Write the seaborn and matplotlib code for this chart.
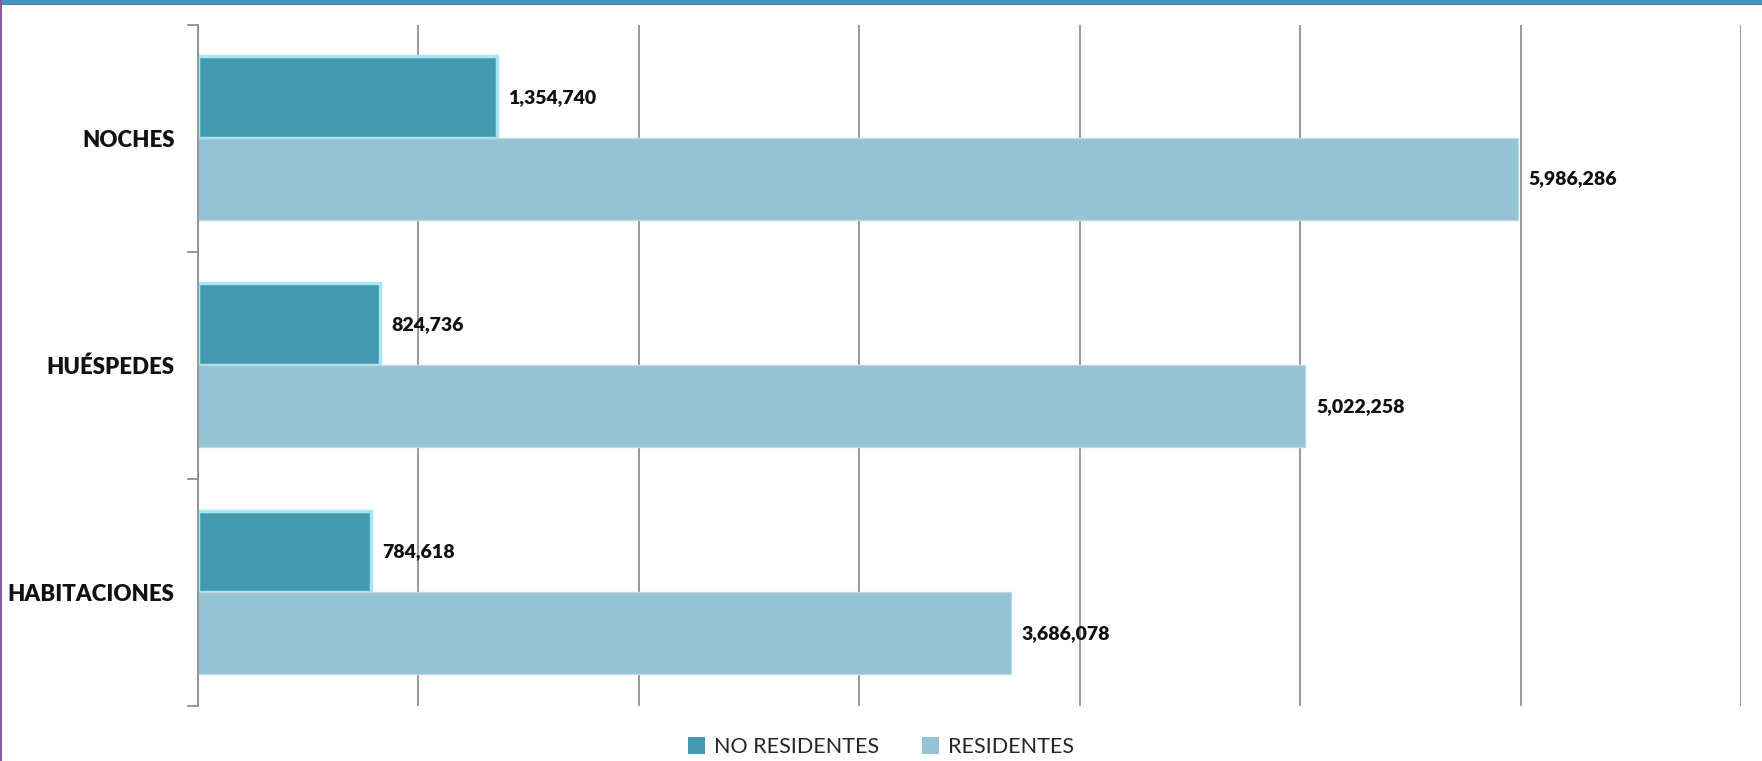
import matplotlib
matplotlib.use("Agg")
import matplotlib.pyplot as plt
import seaborn as sns
import pandas as pd
from matplotlib.patches import Rectangle, Patch

categories = ["NOCHES", "HUÉSPEDES", "HABITACIONES"]
series = ["NO RESIDENTES", "RESIDENTES"]
no_residentes = [1354740, 824736, 784618]
residentes = [5986286, 5022258, 3686078]
colors = ["#4299b0", "#93c3d5"]

df = pd.DataFrame({
    "cat": categories * 2,
    "serie": [series[0]] * 3 + [series[1]] * 3,
    "val": no_residentes + residentes,
})

sns.set_theme(style="white")
plt.rcParams["font.family"] = ["Lato", "DejaVu Sans"]

fig = plt.figure(figsize=(17.62, 7.61), dpi=100)
ax = fig.add_axes([198 / 1762, 1 - 706 / 761, (1741 - 198) / 1762, (706 - 24.5) / 761])

sns.barplot(data=df, y="cat", x="val", hue="serie", order=categories,
            hue_order=series, palette=colors, width=0.72, orient="h",
            saturation=1, ax=ax, legend=False)

# glow edge on dark bars, soft shadow on light bars
for cont, col in zip(ax.containers, colors):
    for p in cont:
        if col == colors[0]:
            p.set_edgecolor("#a6e6f5")
            p.set_linewidth(2.5)
        else:
            p.set_edgecolor("#c2d6dd")
            p.set_linewidth(1.0)

for cont in ax.containers:
    labels = [f"{int(v):,}" for v in cont.datavalues]
    ax.bar_label(cont, labels=labels, padding=8, fontsize=14,
                 fontweight="heavy", color="#111111")

ax.set_xlim(0, 7000000)
ax.set_ylim(2.5, -0.5)
ax.set_xticks(range(0, 7000001, 1000000))
ax.set_xticklabels([])
ax.tick_params(axis="x", length=0)
ax.set_yticks([-0.5, 0.5, 1.5, 2.5], minor=False)
ax.set_yticklabels([])
ax.set_yticks([0, 1, 2], minor=True)
ax.set_yticklabels(categories, minor=True, fontsize=16, fontweight="heavy", color="#111111")
ax.tick_params(axis="y", which="major", length=8, width=1.2, color="#888888", left=True)
ax.tick_params(axis="y", which="minor", length=0, pad=17, left=True)
ax.grid(axis="x", color="#888888", linewidth=1.2)
ax.grid(axis="y", visible=False)
ax.set_axisbelow(True)
for s in ["top", "right", "bottom"]:
    ax.spines[s].set_visible(False)
ax.spines["left"].set_color("#888888")
ax.spines["left"].set_linewidth(1.2)
ax.set_xlabel("")
ax.set_ylabel("")

handles = [Patch(facecolor=c, edgecolor="none") for c in colors]
fig.legend(handles, series, loc="center", bbox_to_anchor=(0.5, 1 - 747 / 761),
           ncol=2, frameon=False, fontsize=15.5, handlelength=0.8, handleheight=0.8,
           handletextpad=0.4, columnspacing=2.0)

# window-frame artifacts
fig.patches.append(Rectangle((0, 1 - 4 / 761), 1, 4 / 761, transform=fig.transFigure,
                             facecolor="#3f98c9", edgecolor="none"))
fig.patches.append(Rectangle((0, 1 - 5 / 761), 1, 1.2 / 761, transform=fig.transFigure,
                             facecolor="#777777", edgecolor="none"))
fig.patches.append(Rectangle((0, 0), 1.5 / 1762, 1, transform=fig.transFigure,
                             facecolor="#8a5a9a", edgecolor="none"))

fig.savefig("out.png", dpi=100)
